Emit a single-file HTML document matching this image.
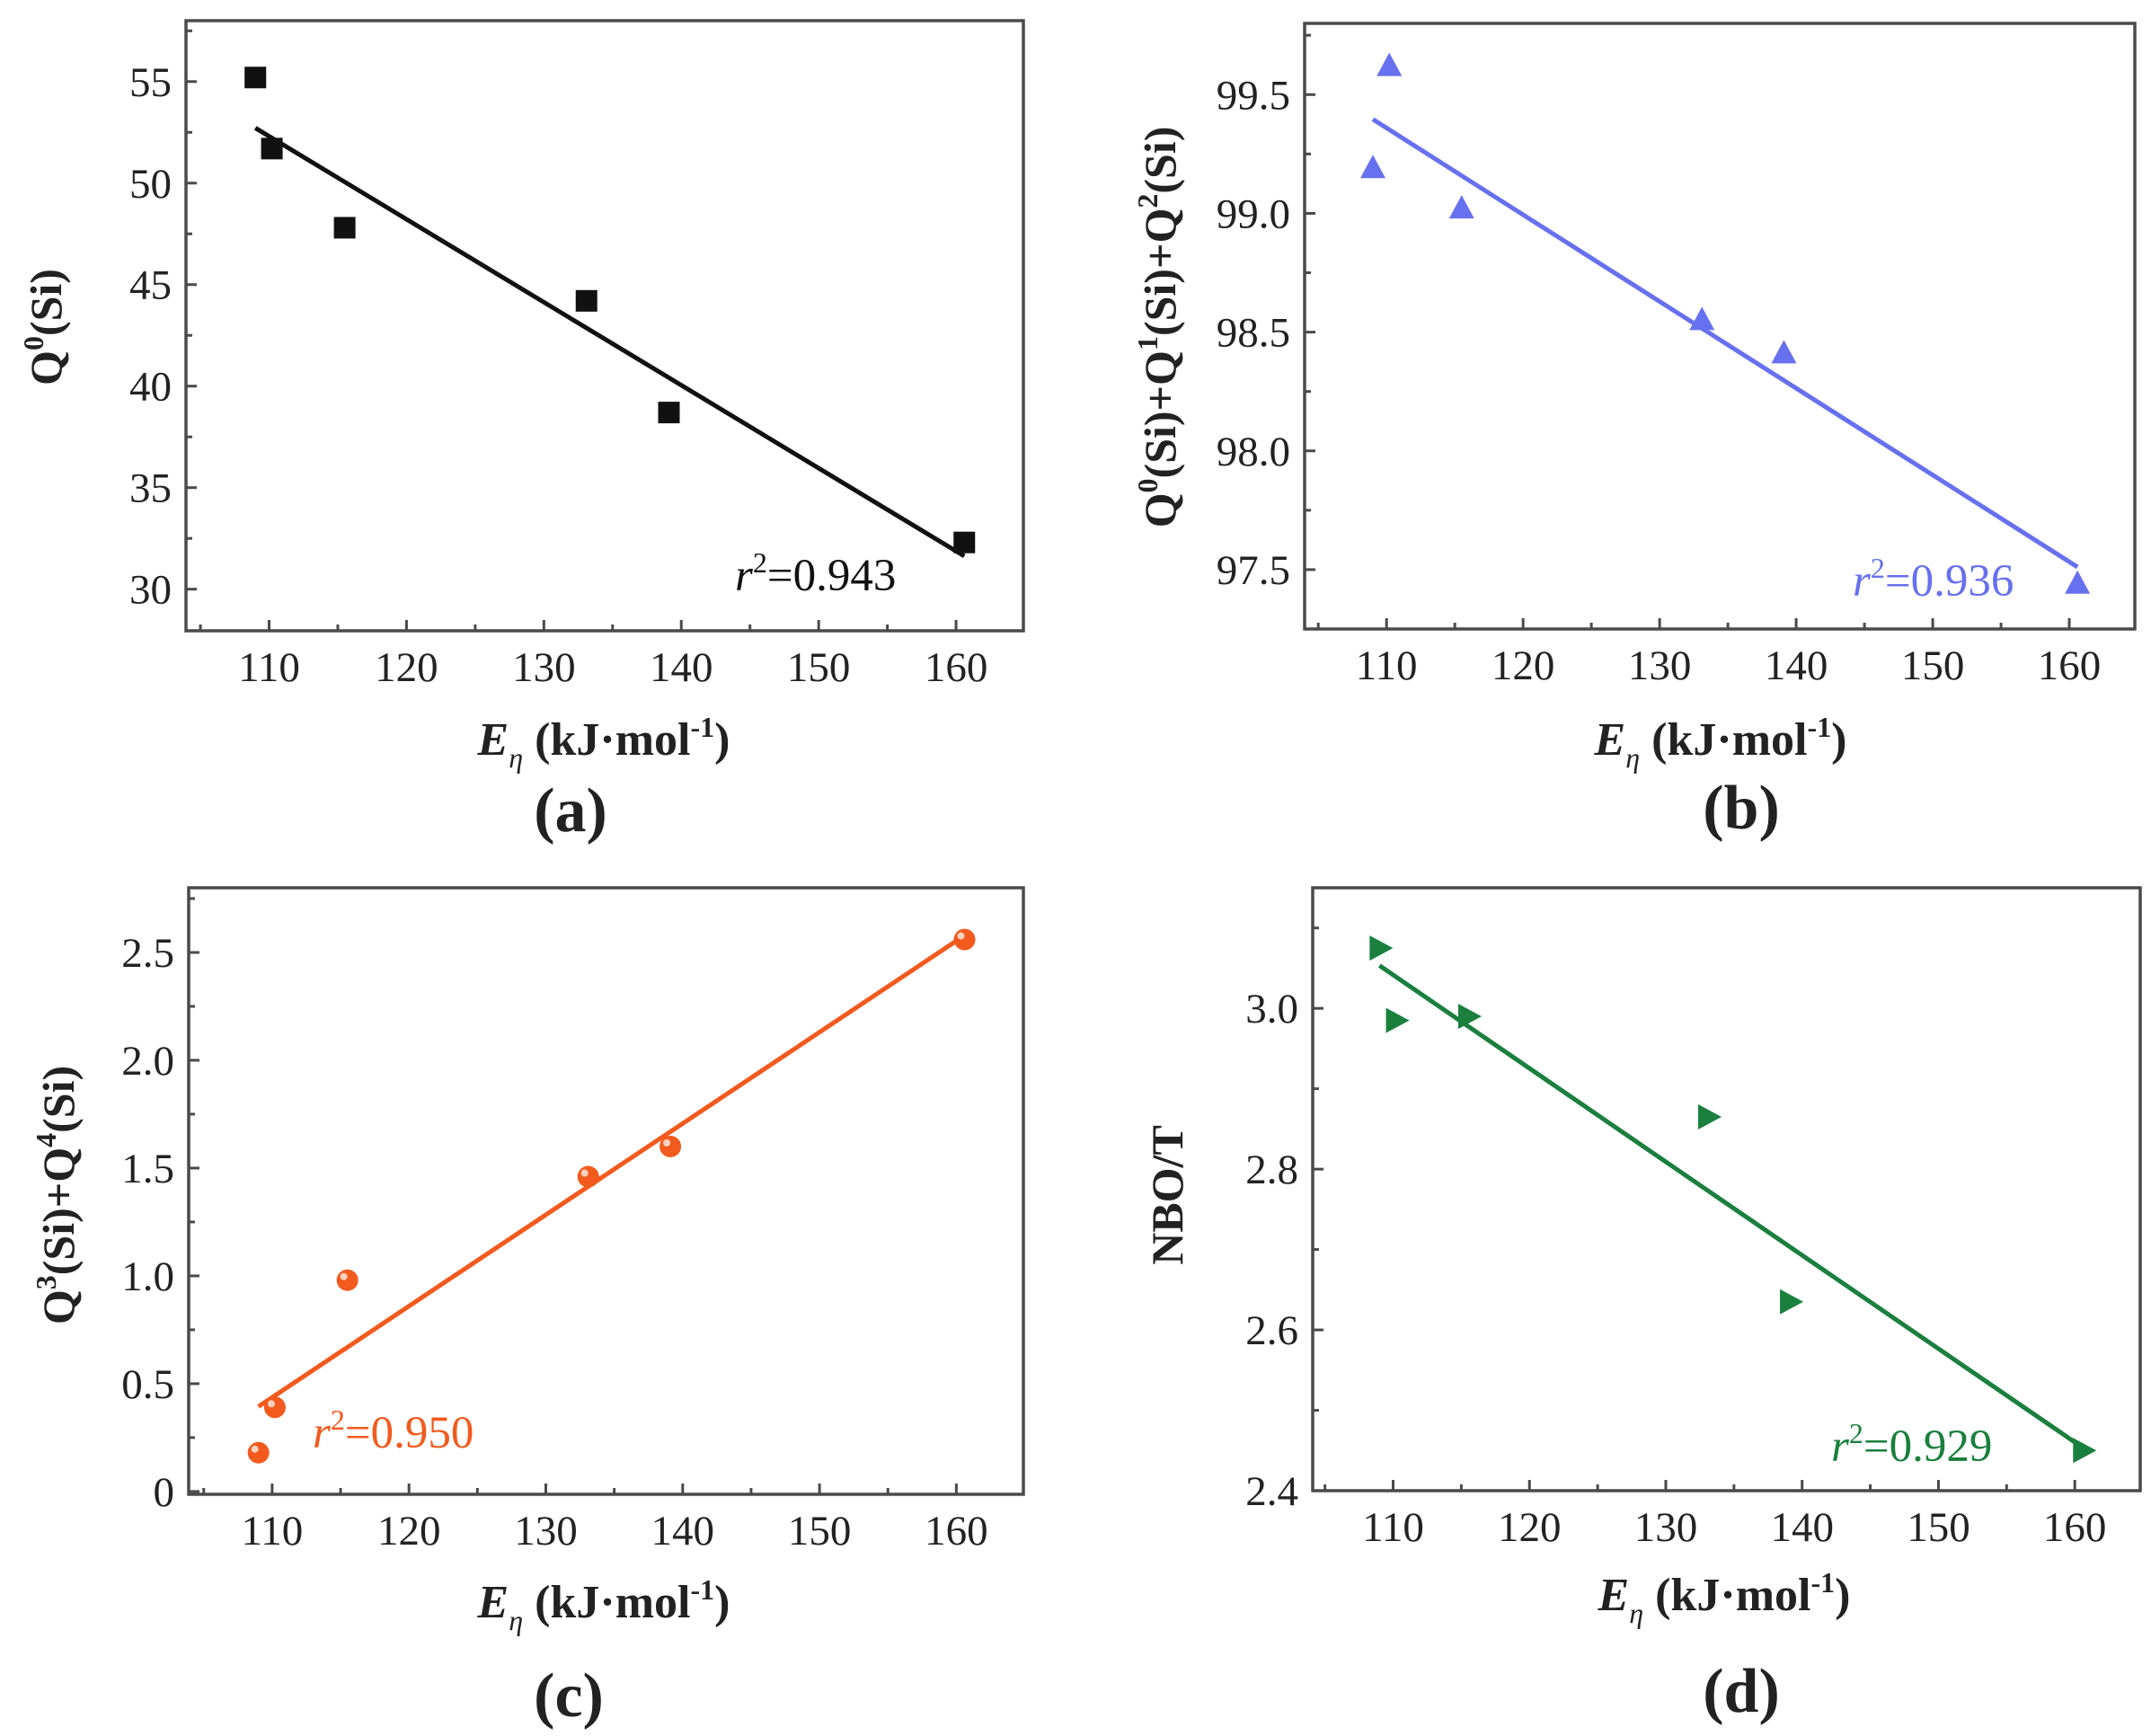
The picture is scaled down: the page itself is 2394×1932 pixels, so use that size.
<!DOCTYPE html>
<html><head><meta charset="utf-8"><style>
html,body{margin:0;padding:0;background:#fff;}
svg{display:block;}
text{font-family:"Liberation Serif",serif;}
</style></head><body>
<svg id="fig" width="2394" height="1932" viewBox="0 0 2394 1932" xmlns="http://www.w3.org/2000/svg"></svg>
<script>
// Shared x values: E_eta (kJ/mol)
const xValues = [109.0, 110.2, 115.5, 133.1, 139.1, 160.6];
const xTicks = [110, 120, 130, 140, 150, 160];
// Panel a
const aValues = [55.2, 51.7, 47.8, 44.2, 38.7, 32.3];
const aTicks = [30, 35, 40, 45, 50, 55];
// Panel b
const bValues = [99.19, 99.62, 99.02, 98.55, 98.41, 97.44];
const bTicks = [97.5, 98.0, 98.5, 99.0, 99.5];
// Panel c
const cValues = [0.18, 0.39, 0.98, 1.46, 1.60, 2.56];
const cTicks = [0, 0.5, 1.0, 1.5, 2.0, 2.5];
// Panel d
const dValues = [3.075, 2.985, 2.99, 2.865, 2.635, 2.45];
const dTicks = [2.4, 2.6, 2.8, 3.0];

const NS = "http://www.w3.org/2000/svg";
const svg = document.getElementById('fig');
function mk(tag, attrs, parent) {
  const e = document.createElementNS(NS, tag);
  for (const k in attrs) e.setAttribute(k, attrs[k]);
  (parent || svg).appendChild(e);
  return e;
}

function panel(cfg) {
  const g = mk('g', {});
  
  
  const L = cfg.L, R = cfg.R, T = cfg.T, B = cfg.B;
  const sx = v => L + (v - cfg.xmin) / (cfg.xmax - cfg.xmin) * (R - L);
  const sy = v => B - (v - cfg.ymin) / (cfg.ymax - cfg.ymin) * (B - T);
  const frame = mk('rect', {x: L, y: T, width: R - L, height: B - T, fill: 'none', stroke: '#4a4a4a', 'stroke-width': 3.5}, g);
  
  
  for (let v = 105; v <= 160; v += 5) {
    const major = v % 10 === 0;
    const t = mk('line', {x1: sx(v), x2: sx(v), y1: B, y2: B - (major ? 12 : 7), stroke: '#4a4a4a', 'stroke-width': 3}, g);
    
    
  }
  xTicks.forEach(v => {
    const t = mk('text', {x: sx(v), y: B + 56, 'font-size': 47, 'text-anchor': 'middle', fill: '#222'}, g);
    t.textContent = v;
    
    
  });
  const ticks = cfg.yTicks;
  const step = ticks[1] - ticks[0];
  for (let i = 0; i < ticks.length; i++) {
    const v = ticks[i];
    const t = mk('line', {x1: L, x2: L + 12, y1: sy(v), y2: sy(v), stroke: '#4a4a4a', 'stroke-width': 3}, g);
    
    
    for (const m of [v - step / 2, v + step / 2]) {
      if (m > cfg.ymin && m < cfg.ymax && (m > v || i === 0)) {
        const mt = mk('line', {x1: L, x2: L + 7, y1: sy(m), y2: sy(m), stroke: '#4a4a4a', 'stroke-width': 3}, g);
        
        
      }
    }
    const lb = mk('text', {x: L - 16, y: sy(v) + 16, 'font-size': 47, 'text-anchor': 'end', fill: '#222'}, g);
    lb.textContent = cfg.fmt(v);
    
    
  }
  const ys = cfg.values, n = xValues.length;
  const mx = xValues.reduce((a, b) => a + b, 0) / n, my = ys.reduce((a, b) => a + b, 0) / n;
  let sxy = 0, sxx = 0;
  for (let i = 0; i < n; i++) { sxy += (xValues[i] - mx) * (ys[i] - my); sxx += (xValues[i] - mx) ** 2; }
  const slope = sxy / sxx, icpt = my - slope * mx;
  const x0 = xValues[0], x1 = xValues[n - 1];
  const fit = mk('line', {x1: sx(x0), y1: sy(icpt + slope * x0), x2: sx(x1), y2: sy(icpt + slope * x1), stroke: cfg.color, 'stroke-width': 5}, g);
  
  
  for (let i = 0; i < n; i++) {
    const px = sx(xValues[i]), py = sy(ys[i]);
    let m;
    if (cfg.marker === 'square') {
      m = mk('rect', {x: px - 12, y: py - 12, width: 24, height: 24, fill: cfg.color}, g);
    } else if (cfg.marker === 'tri-up') {
      m = mk('polygon', {points: `${px},${py - 15} ${px - 14},${py + 11} ${px + 14},${py + 11}`, fill: cfg.color}, g);
    } else if (cfg.marker === 'tri-right') {
      m = mk('polygon', {points: `${px - 11},${py - 14} ${px + 15},${py} ${px - 11},${py + 14}`, fill: cfg.color}, g);
    } else {
      m = mk('circle', {cx: px, cy: py, r: 12, fill: cfg.color}, g);
      const hl = mk('circle', {cx: px - 4, cy: py - 4, r: 4, fill: '#fbd2bf'}, g);
      
      
    }
    
    
  }
  const r = mk('text', {x: cfg.rx, y: cfg.ry, 'font-size': 51, fill: cfg.color}, g);
  
  
  r.innerHTML = '<tspan font-style="italic">r</tspan><tspan font-size="32" dy="-20">2</tspan><tspan dy="20">=' + cfg.r2 + '</tspan>';
  const xt = mk('text', {x: cfg.xtx, y: cfg.xty, 'font-size': 52, 'font-weight': 'bold', 'text-anchor': 'middle', fill: '#222'}, g);
  
  
  xt.innerHTML = '<tspan font-style="italic">E</tspan><tspan font-size="32" dy="14" font-style="italic" font-weight="normal">η</tspan><tspan dy="-14"> (kJ·mol</tspan><tspan font-size="32" dy="-20">-1</tspan><tspan dy="20">)</tspan>';
  const yt = mk('text', {x: 0, y: 0, 'font-size': 50, 'font-weight': 'bold', 'text-anchor': 'middle', fill: '#222', transform: `translate(${cfg.ytx},${cfg.yty}) rotate(-90)`}, g);
  
  
  yt.innerHTML = cfg.ytitle;
  const pl = mk('text', {x: cfg.plx, y: cfg.ply, 'font-size': 70, 'font-weight': 'bold', 'text-anchor': 'middle', fill: '#222'}, g);
  pl.textContent = '(' + cfg.id + ')';
  
  
}
const sup = s => `<tspan font-size="32" dy="-20">${s}</tspan><tspan dy="20">`;
panel({id: 'a', L: 207, R: 1139, T: 23, B: 702, xmin: 103.95, xmax: 164.9, ymin: 27.95, ymax: 58.0,
  values: aValues, yTicks: aTicks, fmt: v => String(v), color: '#111', marker: 'square',
  rx: 818, ry: 657, r2: '0.943', xtx: 672, xty: 840, ytx: 68, yty: 364, plx: 635, ply: 925,
  ytitle: 'Q' + sup('0') + '(Si)</tspan>'});
panel({id: 'b', L: 1452, R: 2376, T: 26, B: 700, xmin: 104.0, xmax: 164.8, ymin: 97.25, ymax: 99.80,
  values: bValues, yTicks: bTicks, fmt: v => v.toFixed(1), color: '#6770ee', marker: 'tri-up',
  rx: 2062, ry: 663, r2: '0.936', xtx: 1915, xty: 840, ytx: 1308, yty: 364, plx: 1938, ply: 922,
  ytitle: 'Q' + sup('0') + '(Si)+Q</tspan>' + sup('1') + '(Si)+Q</tspan>' + sup('2') + '(Si)</tspan>'});
panel({id: 'c', L: 210, R: 1139, T: 988, B: 1663, xmin: 103.9, xmax: 164.9, ymin: -0.013, ymax: 2.80,
  values: cValues, yTicks: cTicks, fmt: v => v === 0 ? '0' : v.toFixed(1), color: '#f25a1e', marker: 'circle',
  rx: 348, ry: 1611, r2: '0.950', xtx: 672, xty: 1800, ytx: 82, yty: 1330, plx: 633, ply: 1910,
  ytitle: 'Q' + sup('3') + '(Si)+Q</tspan>' + sup('4') + '(Si)</tspan>'});
panel({id: 'd', L: 1461, R: 2382, T: 988, B: 1659, xmin: 104.1, xmax: 164.8, ymin: 2.4, ymax: 3.15,
  values: dValues, yTicks: dTicks, fmt: v => v.toFixed(1), color: '#1b7f3e', marker: 'tri-right',
  rx: 2038, ry: 1626, r2: '0.929', xtx: 1919, xty: 1792, ytx: 1316, yty: 1330, plx: 1938, ply: 1905,
  ytitle: 'NBO/T'});
</script>
</body></html>
